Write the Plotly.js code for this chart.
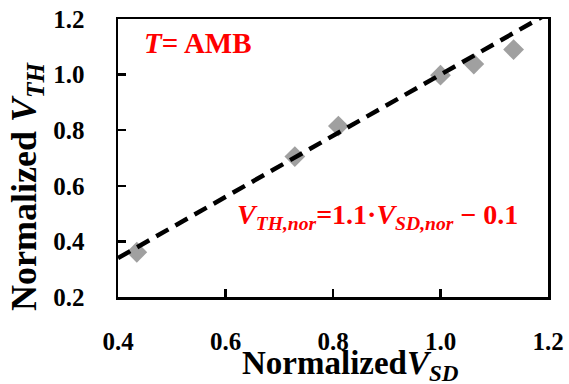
<!DOCTYPE html>
<html>
<head>
<meta charset="utf-8">
<script src="https://cdn.plot.ly/plotly-3.0.1.min.js"></script>
<style>html,body{margin:0;padding:0;background:#fff;}#dbg{position:absolute;left:560px;top:376px;width:8px;height:8px;background:#fff;color:#fff;font:6px monospace;overflow:hidden;}</style>
</head>
<body>
<div id="chart"></div>
<div id="dbg"></div>
<script>
// measured data (normalized V_SD vs normalized V_TH)
const vsd = [0.435, 0.729, 0.810, 1.000, 1.062, 1.136];
const vth = [0.361, 0.705, 0.815, 0.998, 1.038, 1.090];
// fitted line V_TH = 1.1*V_SD - 0.1, end points
const fitX = [0.4, 1.2];
const fitY = [0.34, 1.22];
const xTicks = [0.4, 0.6, 0.8, 1.0, 1.2];
const yTicks = [0.2, 0.4, 0.6, 0.8, 1.0, 1.2];
const xTickText = ['0.4', '0.6', '0.8', '1.0', '1.2'];
const yTickText = ['0.2', '0.4', '0.6', '0.8', '1.0', '1.2'];

const serif = 'Liberation Serif';

const traces = [
  {
    x: vsd, y: vth, type: 'scatter', mode: 'markers',
    marker: {symbol: 'diamond', size: 16, color: '#a0a0a0'},
    hoverinfo: 'skip'
  },
  {
    x: fitX, y: fitY, type: 'scatter', mode: 'lines',
    line: {color: '#000', width: 4.5, dash: '14px,8px'},
    hoverinfo: 'skip'
  }
];

function bold(arr) { return arr.map(function (t) { return '<b>' + t + '</b>'; }); }

const layout = {
  width: 569, height: 384,
  margin: {l: 118, r: 21, t: 19, b: 87},
  paper_bgcolor: '#fff', plot_bgcolor: '#fff',
  showlegend: false,
  font: {family: serif, size: 25, color: '#000'},
  xaxis: {
    range: [0.4, 1.2], tickmode: 'array', tickvals: xTicks, ticktext: bold(xTickText),
    showgrid: false, zeroline: false,
    showline: true, linecolor: '#000', linewidth: 2.5, mirror: true,
    ticks: 'inside', ticklen: 8, tickwidth: 2.5, tickcolor: '#000',
    tickfont: {family: serif, size: 25, color: '#000'},
    ticklabelstandoff: 20
  },
  yaxis: {
    range: [0.2, 1.2], tickmode: 'array', tickvals: yTicks, ticktext: bold(yTickText),
    showgrid: false, zeroline: false,
    showline: true, linecolor: '#000', linewidth: 2.5, mirror: true,
    ticks: 'inside', ticklen: 8, tickwidth: 2.5, tickcolor: '#000',
    tickfont: {family: serif, size: 25, color: '#000'},
    ticklabelstandoff: 26
  },
  annotations: [
    {
      xref: 'paper', yref: 'paper', x: 0.54, y: -0.245,
      xanchor: 'center', yanchor: 'middle', showarrow: false,
      text: '<b>Normalized<i>V</i><sub><i>SD</i></sub></b>',
      font: {family: serif, size: 33, color: '#000'}
    },
    {
      xref: 'paper', yref: 'paper', x: -0.2116, y: 0.396,
      xanchor: 'center', yanchor: 'middle', showarrow: false, textangle: -90,
      text: '<b>Normalized <i>V</i><sub><i>TH</i></sub></b>',
      font: {family: serif, size: 36, color: '#000'}
    },
    {
      xref: 'paper', yref: 'paper', x: 0.056, y: 0.914,
      xanchor: 'left', yanchor: 'middle', showarrow: false,
      text: '<b><i>T</i>= AMB</b>',
      font: {family: serif, size: 29, color: '#ff0000'}
    },
    {
      xref: 'paper', yref: 'paper', x: 0.272, y: 0.291,
      xanchor: 'left', yanchor: 'middle', showarrow: false,
      text: '<b><i>V</i><sub><i>TH,nor</i></sub>=1.1·<i>V</i><sub><i>SD,nor</i></sub> − 0.1</b>',
      font: {family: serif, size: 28, color: '#ff0000'}
    }
  ]
};

Plotly.newPlot('chart', traces, layout, {displayModeBar: false, staticPlot: true}).then(function(){
  var t = document.querySelectorAll('.xtick text, .ytick text');
  var s = '';
  t.forEach(function(e){ s += e.getAttribute('style') + e.getAttribute('transform'); });
  document.getElementById('dbg').textContent = s.length ? '\u00a0' : '';
});
</script>
</body>
</html>
